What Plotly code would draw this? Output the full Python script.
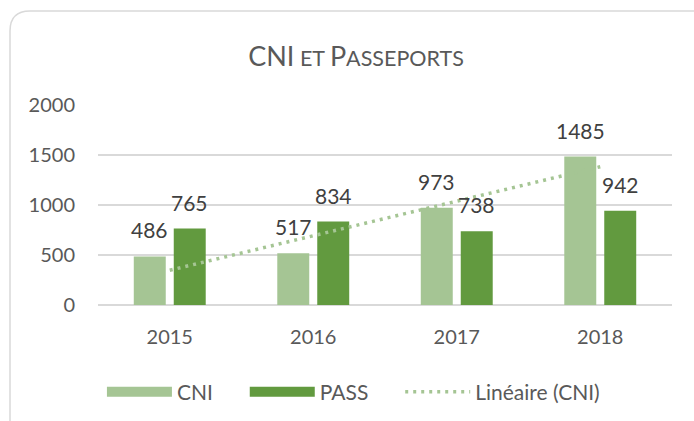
import numpy as np
import plotly.graph_objects as go

years = ["2015", "2016", "2017", "2018"]
cni = [486, 517, 973, 1485]
pas = [765, 834, 738, 942]
y_ticks = [0, 500, 1000, 1500, 2000]

C_CNI = "#a5c594"
C_PASS = "#629a3f"
TXT = "#595959"
LBL = "#404040"
GRID = "#d9d9d9"
FONT = "Lato"

xpos = list(range(len(years)))

# linear trendline of CNI (least squares over category index)
idx = np.arange(1, len(cni) + 1)
slope, intercept = np.polyfit(idx, cni, 1)
trend = [float(v) for v in slope * idx + intercept]

fig = go.Figure()
fig.add_trace(go.Bar(x=xpos, y=cni, name="CNI", showlegend=False,
                     marker=dict(color=C_CNI, line=dict(width=0))))
fig.add_trace(go.Bar(x=xpos, y=pas, name="PASS", showlegend=False,
                     marker=dict(color=C_PASS, line=dict(width=0))))
fig.add_trace(go.Scatter(x=xpos, y=trend, mode="lines", name="Linéaire (CNI)", showlegend=False,
                         line=dict(color=C_CNI, width=3.5, dash="3px,5px")))
# legend entries (wide swatches like the reference)
PAD = "\u00a0" * 5
fig.add_trace(go.Scatter(x=[None], y=[None], mode="lines", name="CNI" + PAD,
                         line=dict(color=C_CNI, width=13)))
fig.add_trace(go.Scatter(x=[None], y=[None], mode="lines", name="PASS" + PAD,
                         line=dict(color=C_PASS, width=13)))
fig.add_trace(go.Scatter(x=[None], y=[None], mode="lines", name="Linéaire (CNI)",
                         line=dict(color=C_CNI, width=3.5, dash="3px,5px")))

annotations = []
for xi, v in zip(xpos, cni):
    annotations.append(dict(x=xi, y=v, text=str(v), showarrow=False, xshift=-20, yshift=12,
                            yanchor="bottom", font=dict(family=FONT, size=21, color=LBL)))
for xi, v in zip(xpos, pas):
    annotations.append(dict(x=xi, y=v, text=str(v), showarrow=False, xshift=20, yshift=12,
                            yanchor="bottom", font=dict(family=FONT, size=21, color=LBL)))

# chart border (rounded top-left corner, right/bottom edges clipped in the reference)
L, T, R, B = -0.1533, 1.47, 1.06, -0.66
rx, ry = 20 / 574, 20 / 200
border_path = f"M{L},{B} L{L},{T - ry} Q{L},{T} {L + rx},{T} L{R},{T}"

fig.update_layout(
    width=694, height=421,
    margin=dict(l=98, r=22, t=105, b=116, autoexpand=False),
    paper_bgcolor="white", plot_bgcolor="white",
    font=dict(family=FONT, color=TXT, size=20),
    title=dict(
        text=("<span style='font-size:27px'>CNI</span>"
              "<span style='font-size:21.5px'> ET </span>"
              "<span style='font-size:27px'>P</span>"
              "<span style='font-size:21.5px'>ASSEPORTS</span>"),
        x=356 / 694, xanchor="center", y=1 - 57 / 421, yanchor="middle",
        font=dict(family=FONT, color=TXT, size=27),
    ),
    barmode="group", bargap=0.443, bargroupgap=0.2,
    xaxis=dict(type="linear", range=[-0.5, len(years) - 0.5], tickvals=xpos, ticktext=years,
               showgrid=False, showline=False, zeroline=False,
               ticks="outside", ticklen=14, tickcolor="rgba(0,0,0,0)",
               tickfont=dict(family=FONT, size=20, color=TXT)),
    yaxis=dict(range=[0, 2000], tickvals=y_ticks, ticktext=[str(t) for t in y_ticks],
               showgrid=True, gridcolor=GRID, gridwidth=1.5, zeroline=True,
               zerolinecolor=GRID, zerolinewidth=1.5, showline=False,
               ticks="outside", ticklen=18, tickcolor="rgba(0,0,0,0)",
               tickfont=dict(family=FONT, size=20, color=TXT)),
    legend=dict(orientation="h", x=0.445, xanchor="center", y=-0.435, yanchor="middle",
                font=dict(family=FONT, size=21, color=TXT), itemwidth=65,
                traceorder="normal"),
    annotations=annotations,
    shapes=[dict(type="path", xref="paper", yref="paper", path=border_path,
                 line=dict(color=GRID, width=1.5), layer="below")],
    showlegend=True,
)

fig.write_html("out.html", config={"displayModeBar": False},
               post_script="document.body.style.margin='0';")
